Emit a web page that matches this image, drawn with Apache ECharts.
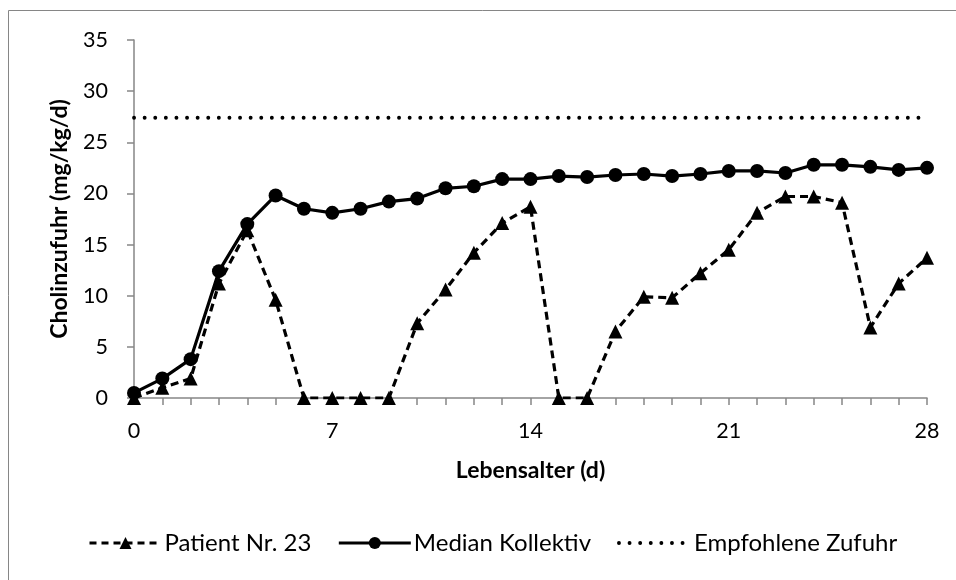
<!DOCTYPE html>
<html>
<head>
<meta charset="utf-8">
<script src="https://cdn.jsdelivr.net/npm/echarts@6/dist/echarts.min.js"></script>
<style>
  html, body { margin: 0; padding: 0; background: #fff; }
  #chart { width: 956px; height: 580px; }
</style>
</head>
<body>
<div id="chart"></div>
<script>
// Lebensalter in Tagen
const days = [0, 1, 2, 3, 4, 5, 6, 7, 8, 9, 10, 11, 12, 13, 14, 15, 16, 17, 18, 19, 20, 21, 22, 23, 24, 25, 26, 27, 28]
// Cholinzufuhr (mg/kg/d)
const patient23 = [0, 1.0, 1.9, 11.2, 16.4, 9.6, 0, 0, 0, 0, 7.3, 10.6, 14.2, 17.1, 18.7, 0, 0, 6.5, 9.9, 9.8, 12.2, 14.5, 18.1, 19.7, 19.7, 19.1, 6.9, 11.2, 13.7]
const medianKollektiv = [0.5, 1.9, 3.8, 12.4, 17.0, 19.8, 18.5, 18.1, 18.5, 19.2, 19.5, 20.5, 20.7, 21.4, 21.4, 21.7, 21.6, 21.8, 21.9, 21.7, 21.9, 22.2, 22.2, 22.0, 22.8, 22.8, 22.6, 22.3, 22.5]
const recommendedDays = [0, 28]
const recommendedValues = [27.4, 27.4]
const xTicks = [0, 7, 14, 21, 28]
const yTicks = [0, 5, 10, 15, 20, 25, 30, 35]

const pairs = (xs, ys) => xs.map((x, i) => [x, ys[i]])

const font = 'Lato, "Open Sans", sans-serif'
const axisGray = '#868686'

const myChart = echarts.init(document.getElementById('chart'), null, { renderer: 'canvas' })

const option = {
  animation: false,
  textStyle: { fontFamily: font, color: '#000' },
  graphic: [
    {
      // Rahmen des Diagrammbereichs (nur links/oben sichtbar)
      type: 'rect',
      shape: { x: 8.5, y: 10.5, width: 980, height: 620 },
      style: { fill: null, stroke: axisGray, lineWidth: 1 },
      silent: true
    }
  ],
  grid: { left: 134, right: 29, top: 40, bottom: 182 },
  legend: {
    bottom: 20,
    left: 83,
    itemWidth: 72,
    itemHeight: 15,
    itemGap: 26,
    textStyle: { fontFamily: font, fontSize: 24, color: '#000', padding: [0, 0, 0, -2] },
    data: [
      { name: 'Patient Nr. 23', lineStyle: { width: 3, type: [7, 5] } },
      { name: 'Median Kollektiv', lineStyle: { width: 3 } },
      { name: 'Empfohlene Zufuhr', itemStyle: { opacity: 0 }, lineStyle: { width: 3.8, type: [0.1, 10.5], cap: 'round' } }
    ]
  },
  xAxis: {
    type: 'value',
    min: xTicks[0],
    max: xTicks[xTicks.length - 1],
    interval: 7,
    name: 'Lebensalter (d)',
    nameLocation: 'middle',
    nameGap: 61,
    nameTextStyle: { fontFamily: font, fontSize: 23, fontWeight: 'bold', color: '#000' },
    axisLine: { show: true, lineStyle: { color: axisGray, width: 1.5 } },
    axisTick: { show: true, length: 7, lineStyle: { color: axisGray, width: 1.5 } },
    minorTick: { show: true, splitNumber: 7, length: 7, lineStyle: { color: axisGray, width: 1.5 } },
    splitLine: { show: false },
    axisLabel: { fontSize: 21.5, color: '#000', margin: 22, fontFamily: font }
  },
  yAxis: {
    type: 'value',
    min: yTicks[0],
    max: yTicks[yTicks.length - 1],
    interval: 5,
    name: 'Cholinzufuhr (mg/kg/d)',
    nameLocation: 'middle',
    nameGap: 63,
    nameTextStyle: { fontFamily: font, fontSize: 23, fontWeight: 'bold', color: '#000' },
    axisLine: { show: true, lineStyle: { color: axisGray, width: 1.5 } },
    axisTick: { show: true, length: 7, lineStyle: { color: axisGray, width: 1.5 } },
    splitLine: { show: false },
    axisLabel: { fontSize: 21.5, color: '#000', margin: 26, fontFamily: font }
  },
  series: [
    {
      name: 'Patient Nr. 23',
      type: 'line',
      data: pairs(days, patient23),
      symbol: 'triangle',
      symbolSize: 14,
      itemStyle: { color: '#000' },
      lineStyle: { color: '#000', width: 3.2, type: [8, 5] }
    },
    {
      name: 'Median Kollektiv',
      type: 'line',
      data: pairs(days, medianKollektiv),
      symbol: 'circle',
      symbolSize: 14,
      itemStyle: { color: '#000' },
      lineStyle: { color: '#000', width: 3.2 }
    },
    {
      name: 'Empfohlene Zufuhr',
      type: 'line',
      data: pairs(recommendedDays, recommendedValues),
      symbol: 'none',
      itemStyle: { color: '#000' },
      lineStyle: { color: '#000', width: 3.8, type: [0.1, 10.5], cap: 'round' }
    }
  ]
}

myChart.setOption(option)
window.addEventListener('resize', () => {
  myChart.resize()
})
</script>
</body>
</html>
